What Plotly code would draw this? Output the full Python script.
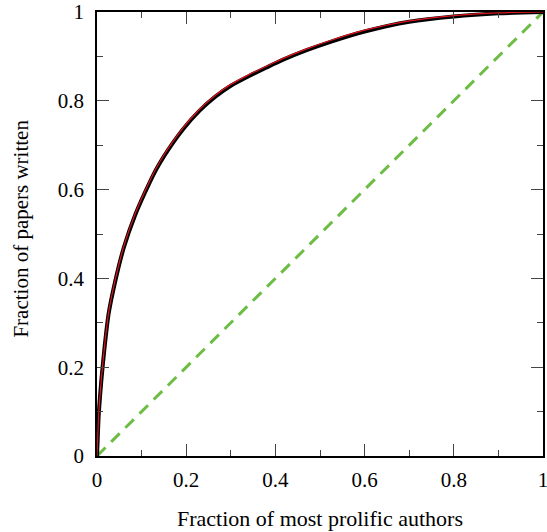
import plotly.graph_objects as go

# Cumulative share of papers vs. share of most prolific authors
author_frac = [0, 0.002, 0.004, 0.0097, 0.017, 0.026, 0.041, 0.060, 0.086, 0.119,
               0.132, 0.15, 0.192, 0.23, 0.266, 0.30, 0.341, 0.38, 0.416, 0.47,
               0.527, 0.60, 0.70, 0.80, 0.90, 1.0]
papers_frac = [0, 0.05, 0.096, 0.170, 0.245, 0.320, 0.394, 0.469, 0.544, 0.618,
               0.644, 0.675, 0.735, 0.778, 0.810, 0.834, 0.856, 0.875, 0.892, 0.914,
               0.934, 0.956, 0.978, 0.990, 0.997, 1.0]

# Fitted curve
fit_frac = [0, 0.053, 0.099, 0.173, 0.248, 0.323, 0.397, 0.472, 0.547, 0.621,
            0.647, 0.678, 0.738, 0.781, 0.813, 0.837, 0.859, 0.878, 0.895, 0.917,
            0.937, 0.959, 0.980, 0.992, 0.998, 1.0]

# Line of equality
equal_x = [0, 1]
equal_y = [0, 1]

x_ticks = [0, 0.2, 0.4, 0.6, 0.8, 1]
x_tick_labels = ["0", "0.2", "0.4", "0.6", "0.8", "1"]
y_ticks = [0, 0.2, 0.4, 0.6, 0.8, 1]
y_tick_labels = ["0", "0.2", "0.4", "0.6", "0.8", "1"]

FONT = "Liberation Serif, Times New Roman, serif"

fig = go.Figure()
fig.add_trace(go.Scatter(x=equal_x, y=equal_y, mode="lines",
                         line=dict(color="#6dbd45", width=3, dash="12px,8px"),
                         showlegend=False, hoverinfo="skip"))
fig.add_trace(go.Scatter(x=author_frac, y=papers_frac, mode="lines",
                         line=dict(color="black", width=4, shape="spline", smoothing=0.6),
                         showlegend=False))
fig.add_trace(go.Scatter(x=author_frac, y=fit_frac, mode="lines",
                         line=dict(color="#e0141e", width=1.2, shape="spline", smoothing=0.6),
                         showlegend=False))

axis_common = dict(
    range=[0, 1],
    automargin=False,
    showgrid=False,
    zeroline=False,
    showline=True,
    linecolor="black",
    linewidth=1.5,
    mirror="ticks",
    ticks="inside",
    ticklen=12,
    tickwidth=1,
    tickcolor="#444444",
    ticklabeloverflow="allow",
    tickfont=dict(family=FONT, size=21, color="black"),
    minor=dict(ticks="inside", ticklen=6, tickwidth=1, tickcolor="#444444", dtick=0.1),
)

fig.update_xaxes(**axis_common, tickvals=x_ticks, ticktext=x_tick_labels,
                 ticklabelstandoff=4)
fig.update_yaxes(**axis_common, tickvals=y_ticks, ticktext=y_tick_labels,
                 ticklabelstandoff=7)

fig.update_layout(
    width=547, height=532,
    margin=dict(l=97, r=4, t=12, b=76, autoexpand=False),
    plot_bgcolor="white",
    paper_bgcolor="white",
    font=dict(family=FONT, size=21, color="black"),
    annotations=[
        dict(text="Fraction of most prolific authors", xref="paper", yref="paper",
             x=0.5, y=-0.14, xanchor="center", yanchor="middle", showarrow=False,
             font=dict(family=FONT, size=22, color="black")),
        dict(text="Fraction of papers written", xref="paper", yref="paper",
             x=-0.1696, y=0.513, xanchor="center", yanchor="middle", showarrow=False,
             textangle=-90, font=dict(family=FONT, size=21, color="black")),
    ],
)

fig.write_html("out.html")
